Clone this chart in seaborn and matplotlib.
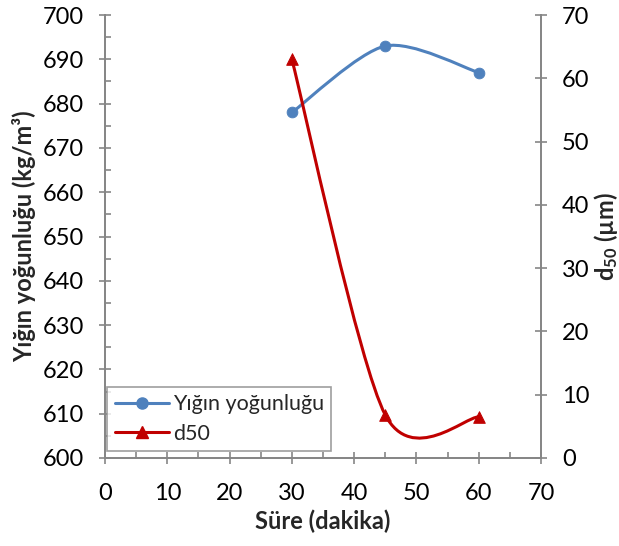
import numpy as np
import pandas as pd
import seaborn as sns
import matplotlib
matplotlib.use("Agg")
import matplotlib.pyplot as plt
from matplotlib.path import Path
from matplotlib.patches import PathPatch
from matplotlib.lines import Line2D
from matplotlib.ticker import MultipleLocator

# ---- data ----
sure = [30, 45, 60]
yogunluk = [678, 693, 687]
d50 = [63, 6.8, 6.5]
series_names = ["Yığın yoğunluğu", "d50"]

sns.set_theme(style="white")
plt.rcParams['font.family'] = ['Lato', 'DejaVu Sans']
plt.rcParams['mathtext.fontset'] = 'custom'
plt.rcParams['mathtext.rm'] = 'Lato'
plt.rcParams['mathtext.bf'] = 'Lato:bold'

BLUE = "#4F81BD"
RED = "#C00000"
GRAY = "#868686"

fig = plt.figure(figsize=(6.19, 5.46), dpi=100)
ax = fig.add_axes([105/619, 1-458/546, (541-105)/619, (458-15)/546])
ax2 = ax.twinx()

def smooth_path(xs, ys):
    pts = np.column_stack([xs, ys]).astype(float)
    n = len(pts)
    verts = [pts[0]]
    codes = [Path.MOVETO]
    for i in range(n-1):
        p0 = pts[i-1] if i > 0 else pts[i]
        p1 = pts[i]
        p2 = pts[i+1]
        p3 = pts[i+2] if i+2 < n else pts[i+1]
        c1 = p1 + (p2 - p0) / 7.0
        c2 = p2 - (p3 - p1) / 7.0
        verts += [c1, c2, p2]
        codes += [Path.CURVE4]*3
    return Path(verts, codes)

df = pd.DataFrame({"sure": sure, "yog": yogunluk, "d50": d50})

ax.add_patch(PathPatch(smooth_path(sure, yogunluk), facecolor='none', edgecolor=BLUE, lw=2.2, zorder=3))
sns.scatterplot(data=df, x="sure", y="yog", ax=ax, color=BLUE, marker='o', s=60, edgecolor=BLUE, zorder=4, legend=False)
ax2.add_patch(PathPatch(smooth_path(sure, d50), facecolor='none', edgecolor=RED, lw=2.2, zorder=3))
sns.scatterplot(data=df, x="sure", y="d50", ax=ax2, color=RED, marker='^', s=70, edgecolor=RED, zorder=4, legend=False)

ax.set_xlim(0, 70)
ax.set_ylim(600, 700)
ax2.set_ylim(0, 70)
ax.xaxis.set_major_locator(MultipleLocator(10))
ax.xaxis.set_minor_locator(MultipleLocator(5))
ax.yaxis.set_major_locator(MultipleLocator(10))
ax.yaxis.set_minor_locator(MultipleLocator(5))
ax2.yaxis.set_major_locator(MultipleLocator(10))

for a in (ax, ax2):
    for s in a.spines.values():
        s.set_color(GRAY)
        s.set_linewidth(1.3)
    a.spines['top'].set_visible(False)
    a.grid(False)

ax.tick_params(axis='x', which='major', direction='inout', length=8, width=1.2, color=GRAY,
               labelsize=17, labelcolor='black', pad=14, bottom=True)
ax.tick_params(axis='y', which='major', direction='inout', length=8, width=1.2, color=GRAY,
               labelsize=17, labelcolor='black', pad=11, left=True)
ax.tick_params(axis='both', which='minor', direction='in', length=4, width=1.2, color=GRAY, left=True, bottom=True)
ax2.tick_params(axis='y', which='major', direction='inout', length=8, width=1.2, color=GRAY,
                labelsize=17, labelcolor='black', pad=11, right=True)

ax.set_xlabel("Süre (dakika)", fontsize=17, fontweight='bold', labelpad=4)
ax.set_ylabel("Yığın yoğunluğu (kg/m³)", fontsize=17, fontweight='bold', labelpad=5)
ax2.set_ylabel(r"$\mathbf{d_{50}}$ (µm)", fontsize=17, fontweight='bold', rotation=90, labelpad=2)

handles = [Line2D([], [], color=BLUE, lw=2.2, marker='o', markersize=8),
           Line2D([], [], color=RED, lw=2.2, marker='^', markersize=8)]
leg = ax2.legend(handles, series_names, loc='lower left', bbox_to_anchor=(0.005, 0.015),
                 fontsize=15.5, frameon=True, fancybox=False, borderpad=0.35, handlelength=2.5,
                 handletextpad=0.2, labelspacing=0.45, borderaxespad=0)
leg.get_frame().set_edgecolor(GRAY)
leg.get_frame().set_linewidth(1.2)

fig.savefig("out.png", dpi=100)
